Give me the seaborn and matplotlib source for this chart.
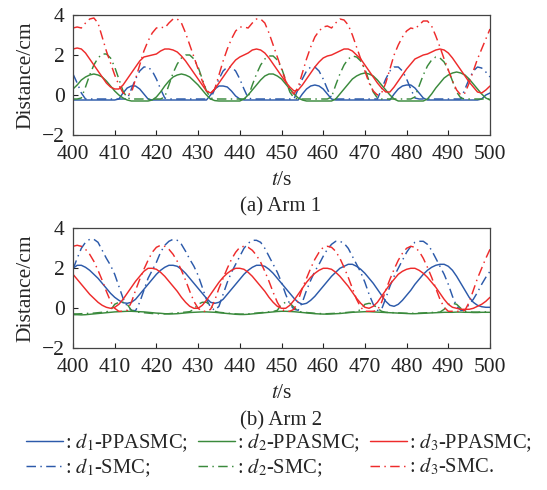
import numpy as np
import matplotlib
matplotlib.use("Agg")
import matplotlib.pyplot as plt
import seaborn as sns

# ---------------- data ----------------
t = list(range(400, 501))

# Arm 1
a1_d1_ppasmc = ([-0.25] * 11 + [-0.2, 0.1, 0.35, 0.45, 0.45, 0.3, 0.05, -0.2]
                + [-0.25] * 14 + [0.0, 0.3, 0.45, 0.45, 0.4, 0.2, -0.05, -0.2]
                + [-0.25] * 14 + [0.05, 0.3, 0.45, 0.5, 0.45, 0.3, 0.05, -0.2]
                + [-0.25] * 14 + [0.05, 0.3, 0.45, 0.5, 0.5, 0.35, 0.1, -0.15]
                + [-0.25] * 13 + [-0.2, 0.0, 0.1])
a1_d1_smc = ([1.05, 0.6, 0.1] + [-0.2] * 11
             + [0.3, 0.8, 1.2, 1.4, 1.4, 1.2, 0.8, 0.3, -0.15] + [-0.2] * 11
             + [0.3, 0.8, 1.2, 1.4, 1.4, 1.2, 0.8, 0.3, -0.15] + [-0.2] * 11
             + [0.3, 0.8, 1.2, 1.4, 1.4, 1.2, 0.8, 0.3, -0.15] + [-0.2] * 11
             + [0.3, 0.8, 1.2, 1.4, 1.4, 1.2, 0.8, 0.3, -0.15] + [-0.2] * 11
             + [0.3, 0.8, 1.2, 1.4, 1.35, 1.15, 0.9])
a1_d2_ppasmc = ([0.3, 0.5, 0.75, 0.9, 1.0, 1.05, 1.0, 0.9, 0.7, 0.45, 0.2, 0.0, -0.15, -0.25]
                + [-0.3] * 5
                + [-0.25, -0.1, 0.15, 0.45, 0.7, 0.9, 1.0, 1.05, 1.0, 0.9, 0.7, 0.5, 0.25, 0.0, -0.2, -0.28]
                + [-0.3] * 6
                + [-0.2, 0.0, 0.25, 0.5, 0.75, 0.95, 1.05, 1.05, 0.95, 0.8, 0.55, 0.3, 0.05, -0.15, -0.25]
                + [-0.3] * 7
                + [-0.2, 0.05, 0.3, 0.55, 0.8, 0.95, 1.05, 1.1, 1.05, 0.95, 0.75, 0.5, 0.25, 0.0, -0.2]
                + [-0.3] * 7
                + [-0.2, 0.05, 0.35, 0.6, 0.85, 1.0, 1.1, 1.15, 1.1, 1.0, 0.8, 0.55, 0.3, 0.05, -0.15, -0.25])
a1_d2_smc = ([-0.2, -0.2, -0.15]
             + [0.4, 1.0, 1.5, 1.85, 2.05, 2.05, 1.85, 1.4, 0.8, 0.2, -0.15] + [-0.2] * 8
             + [-0.1, 0.5, 1.1, 1.55, 1.85, 2.0, 2.0, 1.8, 1.4, 0.8, 0.2, -0.15] + [-0.2] * 8
             + [-0.1, 0.5, 1.05, 1.5, 1.8, 1.95, 1.95, 1.75, 1.35, 0.75, 0.15, -0.15] + [-0.2] * 8
             + [-0.1, 0.5, 1.05, 1.5, 1.8, 1.95, 1.9, 1.7, 1.3, 0.7, 0.15, -0.15] + [-0.2] * 8
             + [-0.1, 0.45, 1.0, 1.45, 1.75, 1.9, 1.85, 1.65, 1.25, 0.7, 0.15, -0.15] + [-0.2] * 7)
a1_d3_ppasmc = [2.3, 2.35, 2.3, 2.1, 1.8, 1.5, 1.2, 0.9, 0.6, 0.4,
                0.3, 0.3, 0.5, 0.8, 1.1, 1.4, 1.7, 1.9, 1.95, 2.0,
                2.05, 2.2, 2.3, 2.3, 2.25, 2.15, 1.95, 1.7, 1.4, 1.1,
                0.8, 0.5, 0.2, 0.1, 0.3, 0.6, 0.9, 1.2, 1.5, 1.75,
                1.9, 2.0, 2.1, 2.25, 2.3, 2.25, 2.1, 1.85, 1.55, 1.25,
                0.95, 0.65, 0.4, 0.2, 0.25, 0.5, 0.8, 1.1, 1.4, 1.65,
                1.85, 1.95, 2.0, 2.1, 2.2, 2.3, 2.3, 2.2, 2.0, 1.8,
                1.5, 1.2, 0.9, 0.6, 0.35, 0.15, 0.15, 0.4, 0.7, 1.0,
                1.3, 1.55, 1.8, 1.9, 2.0, 2.05, 2.15, 2.25, 2.3, 2.25,
                2.1, 1.85, 1.55, 1.25, 0.95, 0.65, 0.4, 0.15, 0.1, 0.25,
                0.45]
a1_d3_smc = [3.35, 3.4, 3.35, 3.6, 3.8, 3.85, 3.6, 2.9, 2.2, 1.6,
             1.0, 0.5, 0.1, 0.0, 0.1, 0.8, 1.5, 2.2, 2.7, 3.1,
             3.35, 3.4, 3.35, 3.6, 3.8, 3.8, 3.6, 3.1, 2.5, 1.9,
             1.3, 0.7, 0.25, 0.05, 0.3, 1.0, 1.7, 2.3, 2.8, 3.2,
             3.4, 3.4, 3.35, 3.6, 3.8, 3.8, 3.6, 3.1, 2.5, 1.9,
             1.3, 0.7, 0.25, 0.05, 0.4, 1.1, 1.8, 2.4, 2.9, 3.2,
             3.4, 3.45, 3.35, 3.6, 3.8, 3.75, 3.5, 3.0, 2.4, 1.8,
             1.2, 0.6, 0.2, 0.0, 0.1, 0.6, 1.3, 2.0, 2.5, 2.9,
             3.2, 3.35, 3.3, 3.5, 3.7, 3.7, 3.45, 2.95, 2.4, 1.8,
             1.25, 0.7, 0.25, 0.0, 0.1, 0.6, 1.2, 1.8, 2.3, 2.8,
             3.3]

# Arm 2
a2_d1_ppasmc = [2.0, 2.15, 2.15, 2.05, 1.9, 1.7, 1.5, 1.25, 1.0, 0.75,
                0.55, 0.4, 0.28, 0.25, 0.3, 0.45, 0.7, 0.95, 1.2, 1.45,
                1.7, 1.9, 2.05, 2.15, 2.15, 2.1, 1.95, 1.75, 1.5, 1.25,
                1.0, 0.75, 0.5, 0.3, 0.25, 0.3, 0.45, 0.7, 0.95, 1.2,
                1.45, 1.7, 1.9, 2.05, 2.15, 2.15, 2.1, 1.95, 1.75, 1.5,
                1.25, 1.0, 0.75, 0.5, 0.3, 0.2, 0.25, 0.4, 0.6, 0.85,
                1.1, 1.35, 1.6, 1.8, 2.0, 2.1, 2.2, 2.2, 2.1, 1.95,
                1.75, 1.5, 1.25, 0.95, 0.65, 0.35, 0.15, 0.1, 0.2, 0.4,
                0.65, 0.9, 1.2, 1.45, 1.7, 1.9, 2.05, 2.15, 2.2, 2.2,
                2.1, 1.9, 1.6, 1.25, 0.9, 0.55, 0.3, 0.15, 0.08, 0.05,
                0.05]
a2_d1_smc = [1.95, 2.5, 3.0, 3.3, 3.45, 3.45, 3.3, 2.9, 2.5, 2.15,
             1.7, 1.1, 0.5, 0.1, -0.1, -0.12, 0.3, 0.9, 1.5, 1.9,
             2.3, 2.8, 3.15, 3.35, 3.45, 3.4, 3.2, 2.85, 2.45, 2.1,
             1.65, 1.05, 0.45, 0.05, -0.1, 0.1, 0.7, 1.3, 1.8, 2.2,
             2.6, 3.0, 3.25, 3.4, 3.4, 3.3, 3.0, 2.6, 2.2, 1.8,
             1.3, 0.7, 0.2, -0.05, -0.1, 0.3, 0.9, 1.4, 1.85, 2.2,
             2.6, 2.95, 3.2, 3.35, 3.35, 3.25, 3.0, 2.6, 2.2, 1.8,
             1.3, 0.7, 0.2, -0.1, -0.05, 0.5, 1.1, 1.6, 2.0, 2.4,
             2.8, 3.1, 3.3, 3.35, 3.35, 3.2, 2.9, 2.5, 2.1, 1.7,
             1.2, 0.6, 0.1, -0.1, -0.1, 0.2, 0.45, 0.8, 1.2, 1.55,
             1.85]
a2_d2_ppasmc = [-0.32, -0.32, -0.33, -0.32, -0.3, -0.28, -0.26, -0.24, -0.22, -0.2,
                -0.18, -0.17, -0.16, -0.15, -0.15, -0.16, -0.17, -0.18, -0.2, -0.22,
                -0.24, -0.25, -0.27, -0.28, -0.28, -0.27, -0.25, -0.23, -0.21, -0.2,
                -0.19, -0.18, -0.18, -0.19, -0.2, -0.22, -0.24, -0.26, -0.28, -0.3,
                -0.31, -0.31, -0.3, -0.28, -0.26, -0.24, -0.22, -0.2, -0.18, -0.16,
                -0.15, -0.15, -0.16, -0.17, -0.19, -0.21, -0.23, -0.25, -0.27, -0.28,
                -0.29, -0.29, -0.28, -0.27, -0.26, -0.24, -0.22, -0.2, -0.19, -0.18,
                -0.17, -0.17, -0.18, -0.19, -0.2, -0.21, -0.22, -0.23, -0.24, -0.25,
                -0.26, -0.27, -0.27, -0.26, -0.25, -0.24, -0.23, -0.22, -0.21, -0.2,
                -0.2, -0.2, -0.19, -0.19, -0.2, -0.2, -0.21, -0.21, -0.2, -0.2,
                -0.2]
a2_d2_smc = [-0.28, -0.28, -0.27, -0.26, -0.25, -0.24, -0.22, -0.2, -0.18, -0.1,
             0.2, 0.3, 0.3, 0.2, -0.1, -0.18, -0.2, -0.22, -0.24, -0.26,
             -0.27, -0.28, -0.28, -0.27, -0.25, -0.23, -0.21, -0.19, -0.17, -0.05,
             0.2, 0.3, 0.3, 0.15, -0.15, -0.2, -0.22, -0.24, -0.26, -0.28,
             -0.29, -0.29, -0.28, -0.26, -0.24, -0.22, -0.2, -0.18, -0.16, -0.1,
             0.2, 0.3, 0.25, 0.05, -0.15, -0.19, -0.21, -0.23, -0.25, -0.26,
             -0.27, -0.27, -0.26, -0.25, -0.24, -0.22, -0.2, -0.19, -0.18, -0.05,
             0.2, 0.25, 0.2, 0.0, -0.15, -0.2, -0.21, -0.22, -0.23, -0.24,
             -0.25, -0.25, -0.25, -0.24, -0.23, -0.22, -0.21, -0.2, -0.19, -0.05,
             0.2, 0.25, 0.2, 0.0, -0.15, -0.18, -0.19, -0.19, -0.18, -0.18,
             -0.18]
a2_d3_ppasmc = [1.7, 1.45, 1.2, 0.95, 0.7, 0.5, 0.3, 0.15, 0.05, 0.0,
                0.05, 0.2, 0.45, 0.75, 1.05, 1.35, 1.6, 1.85, 2.0, 2.0,
                1.95, 1.8, 1.6, 1.35, 1.1, 0.85, 0.55, 0.3, 0.1, 0.0,
                0.0, 0.15, 0.4, 0.7, 1.0, 1.3, 1.55, 1.75, 1.9, 2.0,
                2.0, 1.95, 1.8, 1.6, 1.35, 1.1, 0.85, 0.55, 0.3, 0.1,
                0.0, 0.0, 0.15, 0.4, 0.7, 1.0, 1.3, 1.55, 1.75, 1.9,
                2.0, 2.0, 1.95, 1.8, 1.6, 1.35, 1.1, 0.8, 0.5, 0.25,
                0.05, 0.0, 0.1, 0.3, 0.6, 0.9, 1.2, 1.45, 1.7, 1.85,
                1.95, 2.0, 2.0, 1.9, 1.75, 1.55, 1.3, 1.05, 0.75, 0.45,
                0.2, 0.05, 0.0, -0.05, -0.05, -0.05, 0.0, 0.1, 0.2, 0.35,
                0.55]
a2_d3_smc = [3.1, 3.15, 3.1, 2.95, 2.7, 2.35, 1.9, 1.4, 0.85, 0.35,
             0.0, -0.15, -0.15, -0.1, 0.3, 0.9, 1.45, 1.95, 2.4, 2.8,
             3.05, 3.15, 3.1, 2.95, 2.7, 2.35, 1.9, 1.4, 0.85, 0.35,
             0.0, -0.15, -0.15, -0.05, 0.4, 1.0, 1.5, 2.0, 2.45, 2.8,
             3.05, 3.1, 3.05, 2.9, 2.65, 2.3, 1.85, 1.35, 0.8, 0.3,
             -0.05, -0.15, -0.15, -0.05, 0.4, 1.0, 1.5, 2.0, 2.45, 2.8,
             3.05, 3.1, 3.05, 2.85, 2.5, 2.05, 1.55, 1.0, 0.45, 0.05,
             -0.15, -0.15, -0.15, -0.1, 0.3, 0.9, 1.45, 1.95, 2.4, 2.75,
             3.0, 3.1, 3.05, 2.85, 2.5, 2.05, 1.55, 1.0, 0.45, 0.05,
             -0.15, -0.15, -0.15, -0.15, -0.1, 0.3, 0.9, 1.5, 2.0, 2.5,
             2.95]

legend_labels = [r": $d_1$-PPASMC;", r": $d_1$-SMC;",
                 r": $d_2$-PPASMC;", r": $d_2$-SMC;",
                 r": $d_3$-PPASMC;", r": $d_3$-SMC."]
captions = ["(a) Arm 1", "(b) Arm 2"]

# ---------------- style ----------------
sns.set_style("ticks")
plt.rcParams["font.family"] = ["Liberation Serif", "DejaVu Serif"]
plt.rcParams["mathtext.fontset"] = "stix"
plt.rcParams["axes.unicode_minus"] = True

BLUE, GREEN, RED = "#2c5aaa", "#3a8a3c", "#ee2b2b"
DASHDOT = (0, (6.5, 3, 1, 3))
LW = 1.05

W, H = 547, 490
fig = plt.figure(figsize=(W / 100, H / 100), dpi=100)
ax1 = fig.add_axes([73 / W, 1 - 135 / H, 417 / W, 120 / H])
ax2 = fig.add_axes([73 / W, 1 - 348.3 / H, 417 / W, 120 / H])

panels = [
    (ax1, [a1_d1_ppasmc, a1_d1_smc, a1_d2_ppasmc, a1_d2_smc, a1_d3_ppasmc, a1_d3_smc]),
    (ax2, [a2_d1_ppasmc, a2_d1_smc, a2_d2_ppasmc, a2_d2_smc, a2_d3_ppasmc, a2_d3_smc]),
]
colors = [BLUE, BLUE, GREEN, GREEN, RED, RED]
styles = ["-", DASHDOT, "-", DASHDOT, "-", DASHDOT]

for ax, series in panels:
    for vals, c, ls in zip(series, colors, styles):
        sns.lineplot(x=np.array(t), y=np.array(vals), ax=ax, color=c,
                     linestyle=ls, linewidth=LW, estimator=None, sort=False)
    ax.set_xlim(400, 500)
    ax.set_ylim(-2, 4)
    ax.set_xticks(range(400, 501, 10))
    ax.set_yticks([-2, 0, 2, 4])
    ax.tick_params(direction="in", length=3.5, width=0.8, labelsize=15.5,
                   colors="#222222", top=False, right=False)
    ax.tick_params(axis="x", pad=7)
    ax.tick_params(axis="y", pad=6)
    for sp in ax.spines.values():
        sp.set_visible(True)
        sp.set_color("#444444")
        sp.set_linewidth(0.9)
    ax.set_xlabel(r"$t$/s", fontsize=15.5)
    ax.set_ylabel("Distance/cm", fontsize=15.5)
    ax.xaxis.set_label_coords(0.5, -0.30)
    ax.yaxis.set_label_coords(-0.09, 0.5)

fig.text(281 / W, 1 - 207 / H, captions[0], ha="center", va="center", fontsize=15)
fig.text(281 / W, 1 - 421 / H, captions[1], ha="center", va="center", fontsize=15)

handles = ax1.get_lines()[:6]
fig.legend(handles, legend_labels, loc="center", bbox_to_anchor=(279 / W, 1 - 455 / H),
           ncol=3, frameon=False, fontsize=14.8, handlelength=1.8, handletextpad=0.1,
           columnspacing=0.5, labelspacing=0.1, borderpad=0.0)

fig.savefig("out.png", dpi=100)
